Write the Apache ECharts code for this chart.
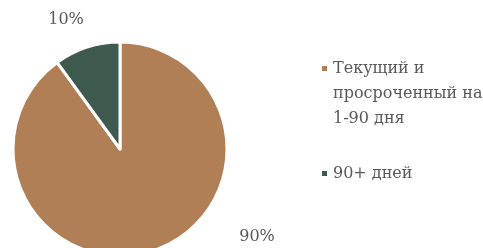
<!DOCTYPE html>
<html>
<head>
<meta charset="utf-8">
<script src="https://cdn.jsdelivr.net/npm/echarts@6/dist/echarts.min.js"></script>
<style>
  html, body { margin: 0; padding: 0; background: #fff; }
  #chart { width: 483px; height: 248px; }
</style>
</head>
<body>
<div id="chart"></div>
<script>
// data
const categories = ['Текущий и\nпросроченный на\n1-90 дня', '90+ дней']
const shares = [90, 10]
const sliceColors = ['#b07f56', '#3e5a4e']

const textColor = '#595959'
const font = 'DejaVu Serif'

const chart = echarts.init(document.getElementById('chart'))

const legendBase = {
  orient: 'vertical',
  left: 315,
  icon: 'rect',
  itemWidth: 7,
  itemHeight: 7,
  textStyle: { color: textColor, fontFamily: font, fontSize: 16, lineHeight: 25 }
}

chart.setOption({
  animation: false,
  color: sliceColors,
  legend: [
    Object.assign({}, legendBase, {
      top: 1,
      // two empty lines on top so the marker sits on the first text line
      formatter: name => '\n\n' + name,
      data: [categories[0]]
    }),
    Object.assign({}, legendBase, {
      top: 156,
      data: [categories[1]]
    })
  ],
  series: [
    {
      type: 'pie',
      center: [120, 149],
      radius: 107,
      startAngle: 90,
      clockwise: true,
      silent: true,
      itemStyle: { borderColor: '#fff', borderWidth: 3 },
      label: {
        show: true,
        position: 'outside',
        formatter: '{c}%',
        color: textColor,
        fontFamily: font,
        fontSize: 16
      },
      labelLine: { show: false },
      labelLayout: function (p) {
        return p.dataIndex === 0
          ? { x: 257, y: 237, align: 'center', verticalAlign: 'middle' }
          : { x: 66, y: 20, align: 'center', verticalAlign: 'middle' }
      },
      data: categories.map((name, i) => ({ name: name, value: shares[i] }))
    }
  ]
})
</script>
</body>
</html>
